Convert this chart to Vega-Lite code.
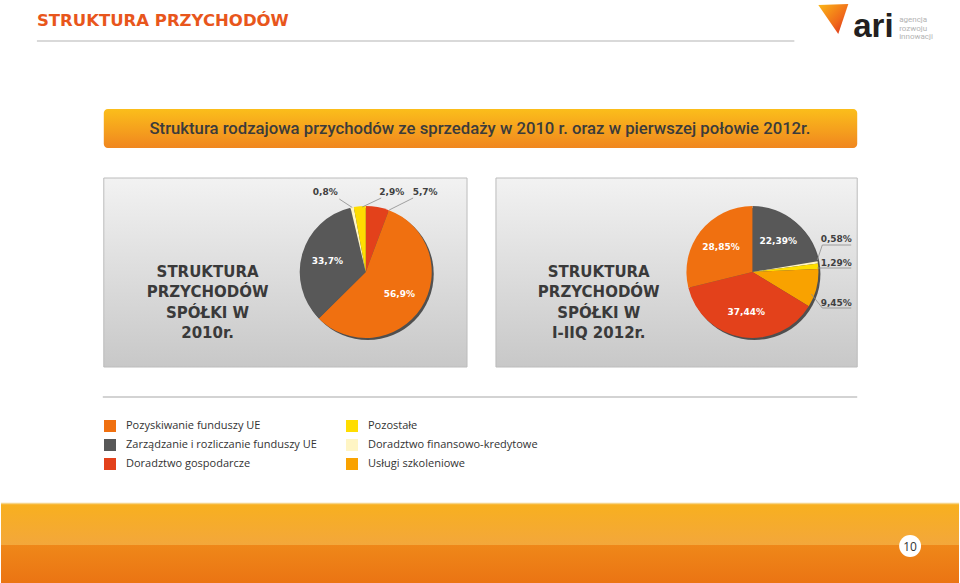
{
  "$schema": "https://vega.github.io/schema/vega-lite/v6.json",
  "width": 960,
  "height": 583,
  "autosize": {"type": "fit", "contains": "padding"},
  "padding": 0,
  "background": "#ffffff",
  "config": {"view": {"stroke": null}, "axis": {"disable": true}},
  "datasets": {
    "pies": [
      {"period": "2010", "category": "Doradztwo gospodarcze", "value": 5.7, "label": "5,7%", "order": 1},
      {"period": "2010", "category": "Pozyskiwanie funduszy UE", "value": 56.9, "label": "56,9%", "order": 2},
      {"period": "2010", "category": "Zarządzanie i rozliczanie funduszy UE", "value": 33.7, "label": "33,7%", "order": 3},
      {"period": "2010", "category": "Doradztwo finansowo-kredytowe", "value": 0.8, "label": "0,8%", "order": 4},
      {"period": "2010", "category": "Pozostałe", "value": 2.9, "label": "2,9%", "order": 5},
      {"period": "I-IIQ 2012", "category": "Zarządzanie i rozliczanie funduszy UE", "value": 22.39, "label": "22,39%", "order": 1},
      {"period": "I-IIQ 2012", "category": "Doradztwo finansowo-kredytowe", "value": 0.58, "label": "0,58%", "order": 2},
      {"period": "I-IIQ 2012", "category": "Pozostałe", "value": 1.29, "label": "1,29%", "order": 3},
      {"period": "I-IIQ 2012", "category": "Usługi szkoleniowe", "value": 9.45, "label": "9,45%", "order": 4},
      {"period": "I-IIQ 2012", "category": "Doradztwo gospodarcze", "value": 37.44, "label": "37,44%", "order": 5},
      {"period": "I-IIQ 2012", "category": "Pozyskiwanie funduszy UE", "value": 28.85, "label": "28,85%", "order": 6}
    ]
  },
  "data": {"values": [{}]},
  "layer": [
    {
      "mark": {"type": "text", "text": "STRUKTURA PRZYCHODÓW", "align": "left", "baseline": "middle", "font": "DejaVu Sans", "fontWeight": "bold", "fontSize": 16.5, "color": "#e8561c"},
      "encoding": {
        "x": {"datum": 36, "type": "quantitative", "scale": {"domain": [0, 960], "nice": false, "zero": false}, "axis": null},
        "y": {"datum": 21, "type": "quantitative", "scale": {"domain": [0, 583], "nice": false, "zero": false, "reverse": true}, "axis": null}
      }
    },
    {
      "mark": {"type": "rule", "color": "#cccccc", "strokeWidth": 1.5},
      "encoding": {"x": {"datum": 36, "type": "quantitative"}, "x2": {"datum": 795}, "y": {"datum": 41, "type": "quantitative"}}
    },
    {
      "mark": {"type": "point", "shape": "M -1.13 -0.73 L 0.87 -0.8 L 0.2 1.2 Z", "size": 900, "filled": true, "opacity": 1,
        "fill": {"gradient": "linear", "x1": 0, "y1": 0, "x2": 1, "y2": 1, "stops": [{"offset": 0, "color": "#fbb817"}, {"offset": 0.6, "color": "#f06a1a"}, {"offset": 1, "color": "#d6281c"}]}},
      "encoding": {"x": {"datum": 836, "type": "quantitative"}, "y": {"datum": 16, "type": "quantitative"}}
    },
    {
      "mark": {"type": "text", "text": "ari", "align": "left", "baseline": "alphabetic", "font": "Liberation Sans", "fontWeight": "bold", "fontSize": 33, "color": "#231f20"},
      "encoding": {"x": {"datum": 854, "type": "quantitative"}, "y": {"datum": 37, "type": "quantitative"}}
    },
    {
      "mark": {"type": "text", "text": ["agencja", "rozwoju", "innowacji"], "align": "left", "baseline": "top", "lineHeight": 8.5, "font": "Roboto", "fontSize": 8, "color": "#b3b3b3"},
      "encoding": {"x": {"datum": 900, "type": "quantitative"}, "y": {"datum": 16, "type": "quantitative"}}
    },
    {
      "mark": {"type": "rect", "cornerRadius": 4,
        "fill": {"gradient": "linear", "x1": 0, "y1": 0, "x2": 0, "y2": 1, "stops": [{"offset": 0, "color": "#fbbe1b"}, {"offset": 1, "color": "#f0861f"}]}},
      "encoding": {"x": {"datum": 103, "type": "quantitative"}, "x2": {"datum": 858}, "y": {"datum": 109, "type": "quantitative"}, "y2": {"datum": 148}}
    },
    {
      "mark": {"type": "text", "text": "Struktura rodzajowa przychodów ze sprzedaży w 2010 r. oraz w  pierwszej połowie 2012r.", "align": "center", "baseline": "middle", "font": "Roboto", "fontWeight": 500, "fontSize": 16.7, "color": "#3b3b3b"},
      "encoding": {"x": {"datum": 480, "type": "quantitative"}, "y": {"datum": 129, "type": "quantitative"}}
    },
    {
      "mark": {"type": "rect", "stroke": "#bcbcbc", "strokeWidth": 1,
        "fill": {"gradient": "linear", "x1": 0, "y1": 0, "x2": 0, "y2": 1, "stops": [{"offset": 0, "color": "#f2f2f2"}, {"offset": 1, "color": "#c8c8c8"}]}},
      "encoding": {"x": {"datum": 103, "type": "quantitative"}, "x2": {"datum": 467}, "y": {"datum": 178, "type": "quantitative"}, "y2": {"datum": 367}}
    },
    {
      "mark": {"type": "rect", "stroke": "#bcbcbc", "strokeWidth": 1,
        "fill": {"gradient": "linear", "x1": 0, "y1": 0, "x2": 0, "y2": 1, "stops": [{"offset": 0, "color": "#f2f2f2"}, {"offset": 1, "color": "#c8c8c8"}]}},
      "encoding": {"x": {"datum": 496, "type": "quantitative"}, "x2": {"datum": 858}, "y": {"datum": 178, "type": "quantitative"}, "y2": {"datum": 367}}
    },
    {
      "mark": {"type": "text", "text": ["STRUKTURA", "PRZYCHODÓW", "SPÓŁKI W", "2010r."], "align": "center", "baseline": "middle", "lineHeight": 20.3, "font": "DejaVu Sans", "fontWeight": "bold", "fontSize": 15, "color": "#3a3a3a"},
      "encoding": {"x": {"datum": 207, "type": "quantitative"}, "y": {"datum": 272, "type": "quantitative"}}
    },
    {
      "mark": {"type": "text", "text": ["STRUKTURA", "PRZYCHODÓW", "SPÓŁKI W", "I-IIQ 2012r."], "align": "center", "baseline": "middle", "lineHeight": 20.3, "font": "DejaVu Sans", "fontWeight": "bold", "fontSize": 15, "color": "#3a3a3a"},
      "encoding": {"x": {"datum": 599, "type": "quantitative"}, "y": {"datum": 272, "type": "quantitative"}}
    },
    {
      "mark": {"type": "arc", "theta": 0, "theta2": 6.2832, "outerRadius": 66, "color": "#2e2e2e", "opacity": 0.8, "xOffset": 2, "yOffset": 2},
      "encoding": {"x": {"datum": 365.5, "type": "quantitative"}, "y": {"datum": 272, "type": "quantitative"}}
    },
    {
      "mark": {"type": "arc", "theta": 0, "theta2": 6.2832, "outerRadius": 66, "color": "#2e2e2e", "opacity": 0.8, "xOffset": 2, "yOffset": 2},
      "encoding": {"x": {"datum": 753, "type": "quantitative"}, "y": {"datum": 272, "type": "quantitative"}}
    },
    {
      "data": {"name": "pies"},
      "transform": [{"filter": "datum.period == '2010'"}],
      "mark": {"type": "arc", "outerRadius": 66},
      "encoding": {
        "x": {"datum": 365.5, "type": "quantitative"},
        "y": {"datum": 272, "type": "quantitative"},
        "theta": {"field": "value", "type": "quantitative", "stack": true},
        "order": {"field": "order", "type": "quantitative"},
        "color": {
          "field": "category", "type": "nominal",
          "scale": {
            "domain": ["Pozyskiwanie funduszy UE", "Zarządzanie i rozliczanie funduszy UE", "Doradztwo gospodarcze", "Pozostałe", "Doradztwo finansowo-kredytowe", "Usługi szkoleniowe"],
            "range": ["#f07010", "#585858", "#e3411b", "#ffdd00", "#fff5c4", "#f9a200"]
          },
          "legend": {
            "title": null, "orient": "none", "legendX": 103, "legendY": 420, "columns": 2, "columnPadding": 29, "rowPadding": 7,
            "symbolType": "square", "symbolSize": 144, "symbolStrokeWidth": 0, "symbolOpacity": 1,
            "labelFont": "Open Sans", "labelFontSize": 11, "labelColor": "#333333", "labelOffset": 10, "labelLimit": 400, "padding": 0
          }
        }
      }
    },
    {
      "data": {"name": "pies"},
      "transform": [{"filter": "datum.period == 'I-IIQ 2012'"}],
      "mark": {"type": "arc", "outerRadius": 66},
      "encoding": {
        "x": {"datum": 753, "type": "quantitative"},
        "y": {"datum": 272, "type": "quantitative"},
        "theta": {"field": "value", "type": "quantitative", "stack": true},
        "order": {"field": "order", "type": "quantitative"},
        "color": {"field": "category", "type": "nominal"}
      }
    },
    {
      "data": {"name": "pies"},
      "transform": [{"filter": "datum.period == '2010'"}],
      "mark": {"type": "text", "radius": 40, "align": "center", "baseline": "middle", "font": "DejaVu Sans", "fontWeight": "bold", "fontSize": 9, "color": "#ffffff"},
      "encoding": {
        "x": {"datum": 365.5, "type": "quantitative"},
        "y": {"datum": 272, "type": "quantitative"},
        "theta": {"field": "value", "type": "quantitative", "stack": true},
        "order": {"field": "order", "type": "quantitative"},
        "detail": {"field": "category", "type": "nominal"},
        "text": {"field": "label", "type": "nominal"},
        "opacity": {"condition": {"test": "datum.value > 20", "value": 1}, "value": 0}
      }
    },
    {
      "data": {"name": "pies"},
      "transform": [{"filter": "datum.period == 'I-IIQ 2012'"}],
      "mark": {"type": "text", "radius": 40, "align": "center", "baseline": "middle", "font": "DejaVu Sans", "fontWeight": "bold", "fontSize": 9, "color": "#ffffff"},
      "encoding": {
        "x": {"datum": 753, "type": "quantitative"},
        "y": {"datum": 272, "type": "quantitative"},
        "theta": {"field": "value", "type": "quantitative", "stack": true},
        "order": {"field": "order", "type": "quantitative"},
        "detail": {"field": "category", "type": "nominal"},
        "text": {"field": "label", "type": "nominal"},
        "opacity": {"condition": {"test": "datum.value > 20", "value": 1}, "value": 0}
      }
    },
    {
      "data": {"name": "pies"},
      "transform": [{"filter": "datum.period == '2010' && datum.category == 'Doradztwo finansowo-kredytowe'"}],
      "mark": {"type": "text", "align": "center", "baseline": "middle", "font": "DejaVu Sans", "fontWeight": "bold", "fontSize": 9, "color": "#404040"},
      "encoding": {"x": {"datum": 325, "type": "quantitative"}, "y": {"datum": 192, "type": "quantitative"}, "text": {"field": "label", "type": "nominal"}}
    },
    {
      "data": {"name": "pies"},
      "transform": [{"filter": "datum.period == '2010' && datum.category == 'Pozostałe'"}],
      "mark": {"type": "text", "align": "center", "baseline": "middle", "font": "DejaVu Sans", "fontWeight": "bold", "fontSize": 9, "color": "#404040"},
      "encoding": {"x": {"datum": 391.5, "type": "quantitative"}, "y": {"datum": 192, "type": "quantitative"}, "text": {"field": "label", "type": "nominal"}}
    },
    {
      "data": {"name": "pies"},
      "transform": [{"filter": "datum.period == '2010' && datum.category == 'Doradztwo gospodarcze'"}],
      "mark": {"type": "text", "align": "center", "baseline": "middle", "font": "DejaVu Sans", "fontWeight": "bold", "fontSize": 9, "color": "#404040"},
      "encoding": {"x": {"datum": 425, "type": "quantitative"}, "y": {"datum": 192, "type": "quantitative"}, "text": {"field": "label", "type": "nominal"}}
    },
    {
      "data": {"name": "pies"},
      "transform": [{"filter": "datum.period == 'I-IIQ 2012' && datum.category == 'Doradztwo finansowo-kredytowe'"}],
      "mark": {"type": "text", "align": "center", "baseline": "middle", "font": "DejaVu Sans", "fontWeight": "bold", "fontSize": 9, "color": "#404040"},
      "encoding": {"x": {"datum": 837, "type": "quantitative"}, "y": {"datum": 239, "type": "quantitative"}, "text": {"field": "label", "type": "nominal"}}
    },
    {
      "data": {"name": "pies"},
      "transform": [{"filter": "datum.period == 'I-IIQ 2012' && datum.category == 'Pozostałe'"}],
      "mark": {"type": "text", "align": "center", "baseline": "middle", "font": "DejaVu Sans", "fontWeight": "bold", "fontSize": 9, "color": "#404040"},
      "encoding": {"x": {"datum": 837, "type": "quantitative"}, "y": {"datum": 263, "type": "quantitative"}, "text": {"field": "label", "type": "nominal"}}
    },
    {
      "data": {"name": "pies"},
      "transform": [{"filter": "datum.period == 'I-IIQ 2012' && datum.category == 'Usługi szkoleniowe'"}],
      "mark": {"type": "text", "align": "center", "baseline": "middle", "font": "DejaVu Sans", "fontWeight": "bold", "fontSize": 9, "color": "#404040"},
      "encoding": {"x": {"datum": 837, "type": "quantitative"}, "y": {"datum": 303, "type": "quantitative"}, "text": {"field": "label", "type": "nominal"}}
    },
    {
      "mark": {"type": "rule", "color": "#8c8c8c", "strokeWidth": 0.8},
      "encoding": {"x": {"datum": 339, "type": "quantitative"}, "y": {"datum": 199, "type": "quantitative"}, "x2": {"datum": 352}, "y2": {"datum": 207.5}}
    },
    {
      "mark": {"type": "rule", "color": "#8c8c8c", "strokeWidth": 0.8},
      "encoding": {"x": {"datum": 381, "type": "quantitative"}, "y": {"datum": 198, "type": "quantitative"}, "x2": {"datum": 362}, "y2": {"datum": 207}}
    },
    {
      "mark": {"type": "rule", "color": "#8c8c8c", "strokeWidth": 0.8},
      "encoding": {"x": {"datum": 413, "type": "quantitative"}, "y": {"datum": 198, "type": "quantitative"}, "x2": {"datum": 389}, "y2": {"datum": 210}}
    },
    {
      "mark": {"type": "rule", "color": "#8c8c8c", "strokeWidth": 0.8},
      "encoding": {"x": {"datum": 823, "type": "quantitative"}, "y": {"datum": 245, "type": "quantitative"}, "x2": {"datum": 852}, "y2": {"datum": 245}}
    },
    {
      "mark": {"type": "rule", "color": "#8c8c8c", "strokeWidth": 0.8},
      "encoding": {"x": {"datum": 823, "type": "quantitative"}, "y": {"datum": 245, "type": "quantitative"}, "x2": {"datum": 818}, "y2": {"datum": 260}}
    },
    {
      "mark": {"type": "rule", "color": "#8c8c8c", "strokeWidth": 0.8},
      "encoding": {"x": {"datum": 818, "type": "quantitative"}, "y": {"datum": 268, "type": "quantitative"}, "x2": {"datum": 852}, "y2": {"datum": 268}}
    },
    {
      "mark": {"type": "rule", "color": "#8c8c8c", "strokeWidth": 0.8},
      "encoding": {"x": {"datum": 812, "type": "quantitative"}, "y": {"datum": 294, "type": "quantitative"}, "x2": {"datum": 823}, "y2": {"datum": 308}}
    },
    {
      "mark": {"type": "rule", "color": "#8c8c8c", "strokeWidth": 0.8},
      "encoding": {"x": {"datum": 823, "type": "quantitative"}, "y": {"datum": 308, "type": "quantitative"}, "x2": {"datum": 852}, "y2": {"datum": 308}}
    },
    {
      "mark": {"type": "rule", "color": "#d3d3d3", "strokeWidth": 2},
      "encoding": {"x": {"datum": 102, "type": "quantitative"}, "x2": {"datum": 858}, "y": {"datum": 397, "type": "quantitative"}}
    },
    {
      "mark": {"type": "rect",
        "fill": {"gradient": "linear", "x1": 0, "y1": 0, "x2": 0, "y2": 1, "stops": [{"offset": 0, "color": "#f8b01e"}, {"offset": 1, "color": "#f3a73b"}]}},
      "encoding": {"x": {"datum": 0, "type": "quantitative"}, "x2": {"datum": 960}, "y": {"datum": 503, "type": "quantitative"}, "y2": {"datum": 545}}
    },
    {
      "mark": {"type": "rule", "color": "#f6d488", "strokeWidth": 1.5},
      "encoding": {"x": {"datum": 0, "type": "quantitative"}, "x2": {"datum": 960}, "y": {"datum": 503.5, "type": "quantitative"}}
    },
    {
      "mark": {"type": "rect",
        "fill": {"gradient": "linear", "x1": 0, "y1": 0, "x2": 0, "y2": 1, "stops": [{"offset": 0, "color": "#ef8719"}, {"offset": 1, "color": "#eb7413"}]}},
      "encoding": {"x": {"datum": 0, "type": "quantitative"}, "x2": {"datum": 960}, "y": {"datum": 545, "type": "quantitative"}, "y2": {"datum": 583}}
    },
    {
      "mark": {"type": "point", "shape": "circle", "size": 480, "filled": true, "color": "#ffffff", "opacity": 1},
      "encoding": {"x": {"datum": 911, "type": "quantitative"}, "y": {"datum": 546, "type": "quantitative"}}
    },
    {
      "mark": {"type": "text", "text": "10", "align": "center", "baseline": "middle", "font": "Open Sans", "fontSize": 12, "color": "#333333"},
      "encoding": {"x": {"datum": 911, "type": "quantitative"}, "y": {"datum": 546.5, "type": "quantitative"}}
    }
  ]
}
